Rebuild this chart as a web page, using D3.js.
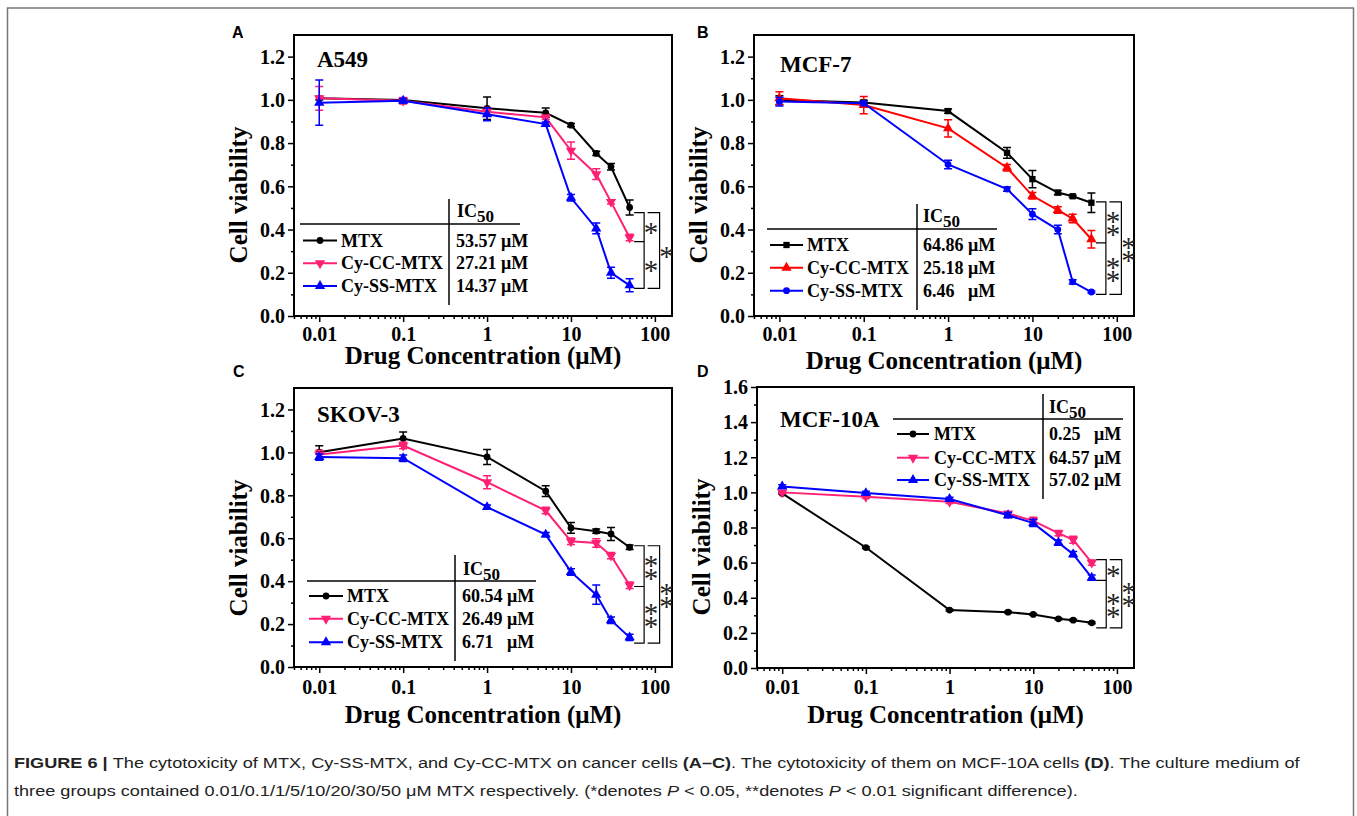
<!DOCTYPE html>
<html>
<head>
<meta charset="utf-8">
<script src="https://cdn.jsdelivr.net/npm/d3@7"></script>
<style>
body { margin: 0; background: #fff; }
svg { display: block; }
.serif { font-family: "Liberation Serif", "Times New Roman", serif; font-weight: bold; }
</style>
</head>
<body>
<svg id="fig" width="1357" height="816"></svg>
<script>
// concentrations and labels shared by the four panels
const conc = [0.01, 0.1, 1, 5, 10, 20, 30, 50]
const seriesNames = ["MTX", "Cy-CC-MTX", "Cy-SS-MTX"]
const xTicks = [0.01, 0.1, 1, 10, 100]
const xTickLabels = ["0.01", "0.1", "1", "10", "100"]

// A549
const a549MTX = [1.007, 0.999, 0.961, 0.940, 0.883, 0.752, 0.690, 0.502]
const a549MTXErr = [0.008, 0.008, 0.052, 0.022, 0.008, 0.010, 0.015, 0.035]
const a549CC = [1.007, 0.996, 0.945, 0.919, 0.765, 0.656, 0.528, 0.363]
const a549CCErr = [0.055, 0.015, 0.020, 0.010, 0.040, 0.025, 0.010, 0.015]
const a549SS = [0.987, 0.996, 0.933, 0.888, 0.547, 0.405, 0.200, 0.142]
const a549SSErr = [0.105, 0.010, 0.030, 0.010, 0.015, 0.025, 0.025, 0.030]
const a549IC50 = ["53.57 μM", "27.21 μM", "14.37 μM"]

// MCF-7
const mcf7MTX = [0.999, 0.988, 0.948, 0.755, 0.633, 0.571, 0.554, 0.524]
const mcf7MTXErr = [0.020, 0.010, 0.010, 0.025, 0.040, 0.010, 0.005, 0.045]
const mcf7CC = [1.007, 0.976, 0.868, 0.686, 0.556, 0.490, 0.451, 0.355]
const mcf7CCErr = [0.030, 0.040, 0.040, 0.015, 0.015, 0.015, 0.020, 0.040]
const mcf7SS = [0.992, 0.984, 0.701, 0.587, 0.471, 0.400, 0.158, 0.111]
const mcf7SSErr = [0.020, 0.010, 0.020, 0.010, 0.025, 0.020, 0.010, 0.005]
const mcf7IC50 = ["64.86 μM", "25.18 μM", "6.46   μM"]

// SKOV-3
const skovMTX = [1.001, 1.065, 0.979, 0.819, 0.648, 0.633, 0.620, 0.558]
const skovMTXErr = [0.030, 0.030, 0.035, 0.025, 0.025, 0.010, 0.030, 0.010]
const skovCC = [0.990, 1.032, 0.861, 0.729, 0.586, 0.578, 0.519, 0.381]
const skovCCErr = [0.020, 0.015, 0.030, 0.015, 0.015, 0.020, 0.015, 0.015]
const skovSS = [0.978, 0.973, 0.745, 0.617, 0.443, 0.337, 0.218, 0.138]
const skovSSErr = [0.015, 0.015, 0.010, 0.010, 0.015, 0.045, 0.015, 0.015]
const skovIC50 = ["60.54 μM", "26.49 μM", "6.71   μM"]

// MCF-10A
const mcf10MTX = [0.994, 0.686, 0.330, 0.318, 0.305, 0.280, 0.272, 0.257]
const mcf10MTXErr = [0.005, 0.005, 0.005, 0.005, 0.005, 0.005, 0.005, 0.005]
const mcf10CC = [1.000, 0.975, 0.947, 0.880, 0.838, 0.768, 0.730, 0.600]
const mcf10CCErr = [0.008, 0.010, 0.010, 0.010, 0.020, 0.015, 0.020, 0.015]
const mcf10SS = [1.034, 0.996, 0.962, 0.870, 0.825, 0.714, 0.648, 0.514]
const mcf10SSErr = [0.010, 0.010, 0.010, 0.015, 0.020, 0.015, 0.015, 0.015]
const mcf10IC50 = ["0.25   μM", "64.57 μM", "57.02 μM"]

// significance brackets: levels (top, middle, bottom) and star labels
const a549Sig = [0.478, 0.344, 0.128], a549Stars = ["*", "*", "*"]
const mcf7Sig = [0.528, 0.338, 0.100], mcf7Stars = ["**", "**", "**"]
const skovSig = [0.565, 0.375, 0.111], skovStars = ["**", "**", "**"]
const mcf10Sig = [0.617, 0.499, 0.228], mcf10Stars = ["*", "**", "**"]

const PINK = "#ff1f74", RED = "#ff0000", BLUE = "#0000ff", BLACK = "#000"

const panels = [
    {letter: "A", lx: 232, ly: 38, cell: "A549", cx: 317, cy: 67,
     left: 294, top: 35, width: 378, height: 281, yMax: 1.3, yTop: 1.2,
     xTitleY: 364, xLabelY: 341,
     series: [[a549MTX, a549MTXErr, BLACK, "circle"], [a549CC, a549CCErr, PINK, "down"], [a549SS, a549SSErr, BLUE, "up"]],
     ic50: a549IC50, sig: a549Sig, stars: a549Stars,
     leg: {hx1: 300, hx2: 520, hy: 224, vx: 449, vy1: 199, vy2: 305, icx: 457, icy: 217, rows: [240.5, 263.3, 286], sx1: 303, sx2: 337, tx: 341, valx: 456}},
    {letter: "B", lx: 697, ly: 38, cell: "MCF-7", cx: 780, cy: 72,
     left: 754, top: 35, width: 380, height: 281, yMax: 1.3, yTop: 1.2,
     xTitleY: 369, xLabelY: 341,
     series: [[mcf7MTX, mcf7MTXErr, BLACK, "square"], [mcf7CC, mcf7CCErr, RED, "up"], [mcf7SS, mcf7SSErr, BLUE, "circle"]],
     ic50: mcf7IC50, sig: mcf7Sig, stars: mcf7Stars,
     leg: {hx1: 767, hx2: 997, hy: 229, vx: 917, vy1: 204, vy2: 310, icx: 923, icy: 222, rows: [245, 267.7, 290.7], sx1: 770, sx2: 803, tx: 807, valx: 923}},
    {letter: "C", lx: 233, ly: 377, cell: "SKOV-3", cx: 317, cy: 422,
     left: 294, top: 388, width: 378, height: 279, yMax: 1.3, yTop: 1.2,
     xTitleY: 723, xLabelY: 694,
     series: [[skovMTX, skovMTXErr, BLACK, "circle"], [skovCC, skovCCErr, PINK, "down"], [skovSS, skovSSErr, BLUE, "up"]],
     ic50: skovIC50, sig: skovSig, stars: skovStars,
     leg: {hx1: 307, hx2: 536, hy: 581, vx: 455, vy1: 555, vy2: 661, icx: 463, icy: 575, rows: [596, 618.7, 642.3], sx1: 309, sx2: 343, tx: 347, valx: 462}},
    {letter: "D", lx: 697, ly: 377, cell: "MCF-10A", cx: 780, cy: 427,
     left: 757, top: 387, width: 377, height: 281, yMax: 1.6, yTop: 1.6,
     xTitleY: 723, xLabelY: 694,
     series: [[mcf10MTX, mcf10MTXErr, BLACK, "circle"], [mcf10CC, mcf10CCErr, PINK, "down"], [mcf10SS, mcf10SSErr, BLUE, "up"]],
     ic50: mcf10IC50, sig: mcf10Sig, stars: mcf10Stars,
     leg: {hx1: 893, hx2: 1123, hy: 419, vx: 1043, vy1: 394, vy2: 499, icx: 1049, icy: 413, rows: [434, 457.7, 480], sx1: 897, sx2: 929, tx: 934, valx: 1049}}
]

const svg = d3.select("#fig")

// light frame around the figure, open at the bottom
svg.append("path")
    .attr("d", "M7.5,816 V8 H1353.5 V816")
    .attr("fill", "none").attr("stroke", "#777").attr("stroke-width", 1.5)

/**
 * Returns a d3 symbol path for a marker type.
 */
function markerPath(type) {
    if(type === "circle") return d3.symbol(d3.symbolCircle, 36)()
    if(type === "square") return d3.symbol(d3.symbolSquare, 40)()
    return d3.symbol(d3.symbolTriangle, 46)()
}

function drawMarker(g, type, x, y, color) {
    g.append("path")
        .attr("d", markerPath(type))
        .attr("transform", `translate(${x},${y})` + (type === "down" ? " rotate(180)" : ""))
        .attr("fill", color)
}

panels.forEach(p => {
    const g = svg.append("g")
    const x = d3.scaleLog().domain([0.005, 160]).range([p.left, p.left + p.width])
    const y = d3.scaleLinear().domain([0, p.yMax]).range([p.top + p.height, p.top])

    // y axis: majors every 0.2, minors every 0.1
    const yMajor = d3.range(0, p.yTop + 0.001, 0.2)
    const yMinor = d3.range(0.1, p.yMax, 0.2)
    const yAx = g.append("g").attr("transform", `translate(${p.left},0)`)
        .call(d3.axisLeft(y).tickValues(yMajor).tickSize(6).tickPadding(3).tickSizeOuter(0).tickFormat(d3.format(".1f")))
    yAx.append("g").call(d3.axisLeft(y).tickValues(yMinor).tickSize(3).tickFormat("").tickSizeOuter(0))

    // x axis: decades labelled, minor ticks at 2..9
    const xMinor = []
    for(let e = -3; e <= 2; e++)
        for(let k = 2; k <= 9; k++) {
            const v = k * Math.pow(10, e)
            if(v >= 0.005 && v <= 160) xMinor.push(v)
        }
    const xAx = g.append("g").attr("transform", `translate(0,${p.top + p.height})`)
        .call(d3.axisBottom(x).tickValues(xTicks).tickSize(6).tickSizeOuter(0).tickFormat((d, i) => xTickLabels[i]))
    xAx.append("g").call(d3.axisBottom(x).tickValues(xMinor).tickSize(3).tickFormat("").tickSizeOuter(0))

    g.selectAll(".domain").remove()
    g.selectAll(".tick line").attr("stroke", "#000").attr("stroke-width", 1.5)
    yAx.selectAll(".tick text").attr("class", "serif").attr("font-size", 20).attr("fill", "#000").attr("dy", "0.34em")
    xAx.selectAll(".tick text").attr("class", "serif").attr("font-size", 20).attr("fill", "#000")
        .attr("y", p.xLabelY - p.top - p.height).attr("dy", 0)

    // plot frame
    g.append("rect")
        .attr("x", p.left).attr("y", p.top).attr("width", p.width).attr("height", p.height)
        .attr("fill", "none").attr("stroke", "#000").attr("stroke-width", 2)

    // axis titles
    g.append("text").attr("class", "serif").attr("font-size", 25)
        .attr("text-anchor", "middle")
        .attr("transform", `translate(${p.left - 47},${p.top + 160}) rotate(-90)`)
        .text("Cell viability")
    g.append("text").attr("class", "serif").attr("font-size", 25)
        .attr("text-anchor", "middle")
        .attr("x", p.left + p.width / 2).attr("y", p.xTitleY)
        .text("Drug Concentration (μM)")

    // panel letter and cell line
    g.append("text").attr("x", p.lx).attr("y", p.ly)
        .attr("font-family", "Liberation Sans, Arial, sans-serif").attr("font-weight", "bold").attr("font-size", 16)
        .text(p.letter)
    g.append("text").attr("class", "serif").attr("font-size", 23)
        .attr("x", p.cx).attr("y", p.cy).text(p.cell)

    // series: lines, error bars, markers
    p.series.forEach(([vals, errs, color, type]) => {
        const pts = conc.map((c, i) => [c, vals[i], errs[i]])
        g.append("path").datum(pts)
            .attr("d", d3.line().x(d => x(d[0])).y(d => y(d[1])))
            .attr("fill", "none").attr("stroke", color).attr("stroke-width", 2)
        pts.forEach(d => {
            const px = x(d[0]), y1 = y(d[1] - d[2]), y2 = y(d[1] + d[2])
            g.append("path")
                .attr("d", `M${px},${y1}V${y2}M${px - 4},${y1}H${px + 4}M${px - 4},${y2}H${px + 4}`)
                .attr("stroke", color).attr("stroke-width", 1.5).attr("fill", "none")
        })
        pts.forEach(d => drawMarker(g, type, x(d[0]), y(d[1]), color))
    })

    // legend table with IC50 values
    const L = p.leg
    g.append("line").attr("x1", L.hx1).attr("x2", L.hx2).attr("y1", L.hy).attr("y2", L.hy)
        .attr("stroke", "#000").attr("stroke-width", 1.5)
    g.append("line").attr("x1", L.vx).attr("x2", L.vx).attr("y1", L.vy1).attr("y2", L.vy2)
        .attr("stroke", "#000").attr("stroke-width", 1.5)
    const ic = g.append("text").attr("class", "serif").attr("font-size", 18).attr("x", L.icx).attr("y", L.icy)
    ic.append("tspan").text("IC")
    ic.append("tspan").attr("dy", 5).attr("font-size", 17).text("50")
    p.series.forEach(([vals, errs, color, type], i) => {
        const ry = L.rows[i]
        g.append("line").attr("x1", L.sx1).attr("x2", L.sx2).attr("y1", ry).attr("y2", ry)
            .attr("stroke", color).attr("stroke-width", 2)
        drawMarker(g, type, (L.sx1 + L.sx2) / 2, ry, color)
        g.append("text").attr("class", "serif").attr("font-size", 18)
            .attr("x", L.tx).attr("y", ry + 6).text(seriesNames[i])
        g.append("text").attr("class", "serif").attr("font-size", 18).attr("xml:space", "preserve")
            .style("white-space", "pre")
            .attr("x", L.valx).attr("y", ry + 6).text(p.ic50[i])
    })

    // significance brackets
    const x50 = x(50)
    const [s0, s1, s2] = p.sig.map(v => y(v))
    const inner = [x50 + 4.5, x50 + 14.5], outer = [x50 + 18, x50 + 30]
    g.append("path")
        .attr("d", `M${inner[0]},${s0}H${inner[1]}V${s2}H${inner[0]}M${inner[0]},${s1}H${inner[1]}`)
        .attr("fill", "none").attr("stroke", "#000").attr("stroke-width", 1.2)
    g.append("path")
        .attr("d", `M${outer[0]},${s0}H${outer[1]}V${s2}H${outer[0]}`)
        .attr("fill", "none").attr("stroke", "#000").attr("stroke-width", 1.2)
    // stacked stars are drawn as one text with tspans
    const starGroup = (sx, ya, yb, label) => {
        const mid = (ya + yb) / 2
        const n = label.length
        const t = g.append("text").attr("font-family", "Liberation Serif, serif").attr("font-size", 29)
            .attr("text-anchor", "middle").attr("fill", "#222")
        for(let k = 0; k < n; k++) {
            const cy = mid + (k - (n - 1) / 2) * 13
            t.append("tspan").attr("x", sx).attr("y", cy).attr("dy", "0.52em").text("*")
        }
    }
    starGroup(inner[1] + 7, s0, s1, p.stars[0])
    starGroup(inner[1] + 7, s1, s2, p.stars[1])
    starGroup(outer[1] + 7, s0, s2, p.stars[2])
})

// caption, both lines squeezed by the same factor so line 1 spans the reference width
const cap1 = svg.append("text").attr("x", 14).attr("y", 768)
    .attr("font-family", "Liberation Sans, Arial, sans-serif").attr("font-size", 14.5).attr("fill", "#222")
cap1.append("tspan").attr("font-weight", "bold").text("FIGURE 6 | ")
cap1.append("tspan").text("The cytotoxicity of MTX, Cy-SS-MTX, and Cy-CC-MTX on cancer cells ")
cap1.append("tspan").attr("font-weight", "bold").text("(A–C)")
cap1.append("tspan").text(". The cytotoxicity of them on MCF-10A cells ")
cap1.append("tspan").attr("font-weight", "bold").text("(D)")
cap1.append("tspan").text(". The culture medium of")

const cap2 = svg.append("text").attr("x", 14).attr("y", 796)
    .attr("font-family", "Liberation Sans, Arial, sans-serif").attr("font-size", 14.5).attr("fill", "#222")
cap2.append("tspan").text("three groups contained 0.01/0.1/1/5/10/20/30/50 μM MTX respectively. (*denotes ")
cap2.append("tspan").attr("font-style", "italic").text("P")
cap2.append("tspan").text(" < 0.05, **denotes ")
cap2.append("tspan").attr("font-style", "italic").text("P")
cap2.append("tspan").text(" < 0.01 significant difference).")

const k = 1287 / cap1.node().getComputedTextLength()
;[cap1, cap2].forEach(t => t.attr("transform", `translate(14,0) scale(${k},1) translate(-14,0)`))
</script>
</body>
</html>
